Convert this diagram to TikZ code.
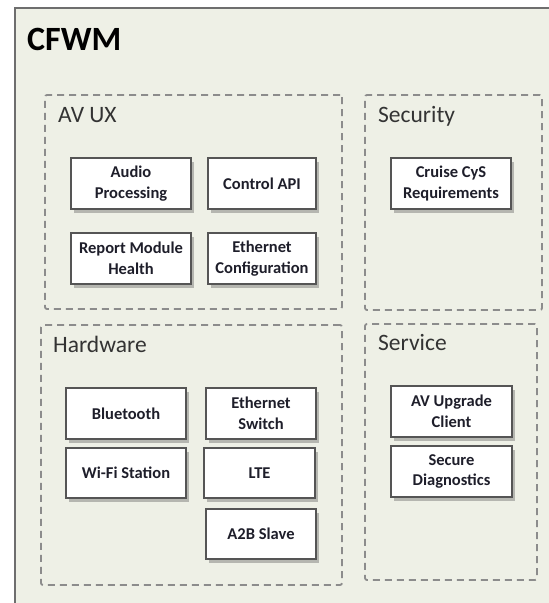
\documentclass[tikz,border=0pt]{standalone}
\usepackage{fontspec}
\setmainfont{Carlito}
\usetikzlibrary{shadows}
\definecolor{bgc}{HTML}{EEF0E6}
\definecolor{framec}{HTML}{6E6E6E}
\definecolor{dashc}{HTML}{8C8C8C}
\definecolor{boxc}{HTML}{555555}
\definecolor{titlec}{HTML}{333333}
\definecolor{textc}{HTML}{1E1E2A}
\tikzset{
  container/.style={draw=dashc, line width=1.8pt, dash pattern=on 7pt off 5pt, rounded corners=2pt, inner sep=0pt},
  comp/.style={draw=boxc, line width=1.4pt, fill=white, inner sep=0pt, align=center,
    text=textc, font=\bfseries\fontsize{16.5}{20.5}\selectfont,
    drop shadow={shadow xshift=3pt, shadow yshift=-4pt, opacity=0.35, fill=black!70}},
  grouptitle/.style={anchor=base west, inner sep=0pt, text=titlec, font=\fontsize{23.5}{28}\selectfont},
}
\begin{document}
\begin{tikzpicture}[x=1pt, y=-1pt]
\useasboundingbox (0,0) rectangle (549,603);
\begin{scope}
\clip (0,0) rectangle (549,603);
\draw[draw=framec, fill=bgc, line width=2pt] (15,8) rectangle (570,630);
\end{scope}
\node[anchor=base west, inner sep=0pt, font=\bfseries\fontsize{34}{40}\selectfont, text=black] (cfwm) at (27,50) {CFWM};

% containers
\node[container, minimum width=297pt, minimum height=214pt] (avux) at (193.5,202) {};
\node[container, minimum width=177pt, minimum height=215pt] (sec) at (453.5,202.5) {};
\node[container, minimum width=301pt, minimum height=260pt] (hw) at (191.5,455) {};
\node[container, minimum width=172pt, minimum height=256pt] (srv) at (451,452) {};

\node[grouptitle] (tavux) at (58,122) {AV UX};
\node[grouptitle] (tsec) at (378,122) {Security};
\node[grouptitle] (thw) at (53,352) {Hardware};
\node[grouptitle] (tsrv) at (378,350) {Service};

% AV UX
\node[comp, minimum width=120pt, minimum height=51pt] (audio) at (131,183.5) {Audio\\Processing};
\node[comp, minimum width=108pt, minimum height=51pt] (ctrl) at (262,183.5) {Control API};
\node[comp, minimum width=120pt, minimum height=51pt] (report) at (131,258.5) {Report Module\\Health};
\node[comp, minimum width=108pt, minimum height=51pt] (ethcfg) at (262,258.5) {Ethernet\\Configuration};
% Security
\node[comp, minimum width=120pt, minimum height=51pt] (cys) at (451,183.5) {Cruise CyS\\Requirements};
% Hardware
\node[comp, minimum width=120pt, minimum height=51pt] (bt) at (126,413.5) {Bluetooth};
\node[comp, minimum width=110pt, minimum height=51pt] (ethsw) at (261,413.5) {Ethernet\\Switch};
\node[comp, minimum width=120pt, minimum height=50pt] (wifi) at (126,473) {Wi-Fi Station};
\node[comp, minimum width=111pt, minimum height=50pt] (lte) at (259.5,473) {LTE};
\node[comp, minimum width=110pt, minimum height=50pt] (a2b) at (261,534) {A2B Slave};
% Service
\node[comp, minimum width=121pt, minimum height=51pt] (upg) at (451.5,411.5) {AV Upgrade\\Client};
\node[comp, minimum width=121pt, minimum height=51pt] (diag) at (451.5,471.5) {Secure\\Diagnostics};
\end{tikzpicture}
\end{document}
